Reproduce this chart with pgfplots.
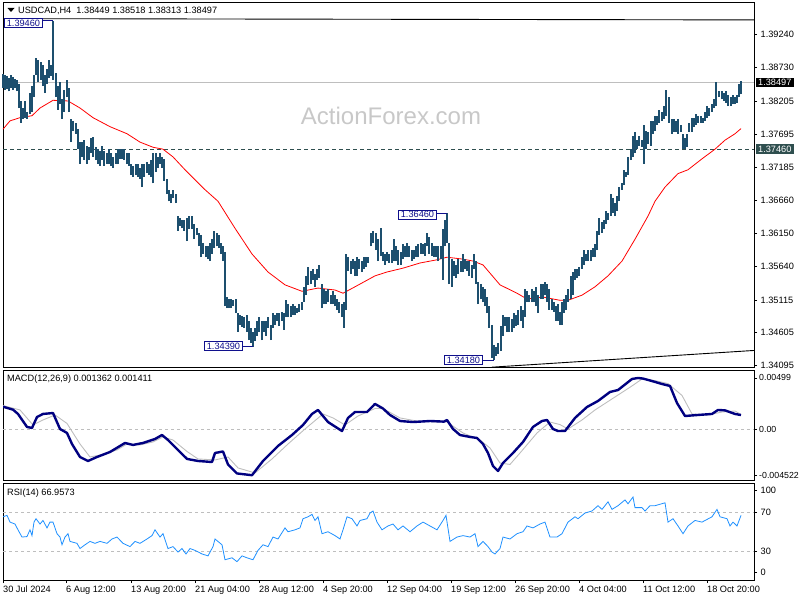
\documentclass[border=0pt]{standalone}
\usepackage{pgfplots}
\usepackage{pgfplotstable}
\pgfplotsset{compat=1.18}
\usepackage{fontspec}
\setmainfont{Liberation Sans}

\definecolor{barc}{HTML}{1D4F6E}
\definecolor{macdc}{HTML}{000080}
\definecolor{sigc}{HTML}{BEBEBE}
\definecolor{rsic}{HTML}{1E90FF}
\definecolor{tagc}{HTML}{2F4F4F}
\definecolor{boxc}{HTML}{10108C}
\definecolor{wmc}{HTML}{C8C8C8}

% H4 bars: x position, high, low
\pgfplotstableread{
x h l
3 1.3863 1.3841
5 1.3861 1.3838
7 1.3860 1.3840
9 1.3857 1.3836
11 1.3861 1.3841
13 1.3858 1.3838
15 1.3855 1.3841
17 1.3854 1.3836
19 1.3847 1.3810
21 1.3821 1.3787
23 1.3810 1.3793
25 1.3821 1.3795
27 1.3804 1.3793
30 1.3833 1.3801
32 1.3844 1.3804
34 1.3861 1.3827
36 1.3888 1.3861
38 1.3885 1.3850
41 1.3882 1.3854
43 1.3877 1.3844
45 1.3861 1.3833
47 1.3871 1.3847
49 1.3885 1.3857
51 1.3877 1.3860
53 1.3946 1.3854
56 1.3864 1.3827
58 1.3844 1.3807
60 1.3850 1.3816
62 1.3824 1.3793
64 1.3838 1.3804
67 1.3854 1.3827
69 1.3841 1.3804
71 1.3793 1.3757
73 1.3790 1.3774
76 1.3787 1.3770
78 1.3777 1.3746
80 1.3757 1.3723
82 1.3757 1.3734
84 1.3760 1.3729
87 1.3751 1.3723
89 1.3749 1.3729
91 1.3763 1.3740
93 1.3765 1.3734
96 1.3749 1.3729
98 1.3746 1.3723
100 1.3743 1.3720
102 1.3751 1.3729
104 1.3743 1.3720
107 1.3740 1.3723
109 1.3746 1.3723
111 1.3740 1.3720
113 1.3734 1.3717
116 1.3740 1.3723
118 1.3746 1.3723
120 1.3746 1.3731
122 1.3746 1.3731
124 1.3746 1.3729
127 1.3740 1.3723
129 1.3740 1.3720
131 1.3723 1.3706
133 1.3720 1.3703
136 1.3723 1.3706
138 1.3723 1.3703
140 1.3717 1.3700
142 1.3723 1.3687
144 1.3723 1.3703
147 1.3726 1.3709
149 1.3723 1.3706
151 1.3729 1.3703
153 1.3740 1.3693
156 1.3740 1.3711
158 1.3734 1.3717
160 1.3740 1.3723
162 1.3734 1.3717
164 1.3731 1.3697
167 1.3700 1.3676
169 1.3683 1.3665
171 1.3676 1.3662
173 1.3683 1.3670
176 1.3676 1.3662
178 1.3642 1.3619
180 1.3639 1.3627
182 1.3636 1.3623
184 1.3636 1.3619
187 1.3639 1.3603
189 1.3642 1.3622
192 1.3642 1.3622
194 1.3630 1.3606
197 1.3623 1.3613
199 1.3616 1.3595
201 1.3613 1.3578
203 1.3600 1.3583
206 1.3595 1.3578
208 1.3595 1.3575
210 1.3600 1.3572
212 1.3606 1.3583
214 1.3619 1.3592
217 1.3616 1.3595
219 1.3613 1.3592
221 1.3600 1.3583
223 1.3595 1.3572
225 1.3586 1.3502
227 1.3516 1.3499
229 1.3513 1.3499
231 1.3513 1.3499
233 1.3511 1.3502
236 1.3513 1.3491
238 1.3491 1.3462
240 1.3488 1.3473
242 1.3487 1.3470
244 1.3485 1.3468
247 1.3488 1.3462
249 1.3479 1.3449
251 1.3468 1.3445
253 1.3462 1.3439
255 1.3468 1.3448
257 1.3479 1.3456
259 1.3485 1.3462
262 1.3479 1.3449
264 1.3479 1.3462
266 1.3479 1.3456
268 1.3485 1.3468
271 1.3473 1.3449
273 1.3491 1.3468
275 1.3488 1.3473
277 1.3491 1.3479
279 1.3491 1.3471
282 1.3493 1.3479
284 1.3491 1.3465
286 1.3511 1.3485
288 1.3505 1.3485
291 1.3502 1.3485
293 1.3505 1.3488
295 1.3502 1.3488
297 1.3499 1.3491
299 1.3505 1.3493
302 1.3508 1.3496
304 1.3532 1.3508
306 1.3549 1.3519
308 1.3563 1.3535
311 1.3557 1.3536
313 1.3560 1.3543
315 1.3552 1.3532
317 1.3560 1.3543
319 1.3566 1.3546
322 1.3536 1.3499
324 1.3529 1.3505
326 1.3526 1.3505
328 1.3529 1.3508
331 1.3519 1.3505
333 1.3526 1.3505
335 1.3519 1.3502
337 1.3513 1.3496
339 1.3508 1.3491
342 1.3505 1.3485
344 1.3508 1.3468
346 1.3583 1.3496
348 1.3578 1.3557
351 1.3572 1.3552
353 1.3575 1.3560
355 1.3572 1.3549
357 1.3578 1.3549
359 1.3575 1.3560
362 1.3572 1.3555
364 1.3578 1.3560
366 1.3578 1.3563
368 1.3578 1.3569
371 1.3616 1.3595
373 1.3619 1.3600
376 1.3616 1.3589
378 1.3606 1.3572
381 1.3623 1.3580
383 1.3586 1.3572
385 1.3583 1.3566
387 1.3586 1.3572
389 1.3583 1.3569
392 1.3589 1.3569
394 1.3606 1.3572
396 1.3595 1.3572
398 1.3589 1.3566
401 1.3586 1.3566
403 1.3598 1.3575
405 1.3595 1.3578
407 1.3600 1.3578
409 1.3595 1.3578
412 1.3589 1.3572
414 1.3589 1.3575
416 1.3595 1.3578
418 1.3598 1.3578
421 1.3600 1.3583
423 1.3598 1.3583
425 1.3600 1.3580
427 1.3616 1.3595
429 1.3609 1.3583
432 1.3600 1.3580
434 1.3595 1.3578
436 1.3595 1.3578
438 1.3595 1.3572
441 1.3595 1.3575
443 1.3622 1.3543
445 1.3636 1.3595
447 1.3646 1.3600
449 1.3600 1.3536
452 1.3575 1.3532
454 1.3572 1.3549
456 1.3566 1.3546
458 1.3575 1.3552
461 1.3572 1.3555
463 1.3583 1.3555
465 1.3575 1.3560
467 1.3572 1.3557
469 1.3572 1.3549
472 1.3566 1.3546
474 1.3583 1.3560
476 1.3572 1.3536
478 1.3540 1.3505
481 1.3536 1.3513
483 1.3532 1.3508
485 1.3529 1.3502
487 1.3516 1.3491
489 1.3502 1.3468
492 1.3473 1.3421
494 1.3442 1.3418
496 1.3438 1.3424
498 1.3445 1.3428
501 1.3471 1.3432
503 1.3488 1.3456
505 1.3485 1.3471
507 1.3485 1.3462
509 1.3485 1.3462
512 1.3482 1.3462
514 1.3491 1.3468
516 1.3488 1.3471
518 1.3496 1.3473
521 1.3502 1.3479
523 1.3496 1.3468
525 1.3529 1.3485
527 1.3526 1.3508
529 1.3519 1.3508
532 1.3529 1.3508
534 1.3526 1.3508
536 1.3532 1.3502
538 1.3519 1.3491
541 1.3536 1.3513
543 1.3536 1.3513
545 1.3540 1.3519
547 1.3536 1.3508
549 1.3529 1.3496
552 1.3513 1.3496
554 1.3508 1.3493
556 1.3502 1.3479
558 1.3505 1.3479
560 1.3493 1.3473
562 1.3508 1.3473
564 1.3513 1.3491
566 1.3519 1.3496
568 1.3529 1.3508
571 1.3549 1.3513
573 1.3555 1.3519
575 1.3560 1.3543
577 1.3560 1.3546
579 1.3563 1.3549
582 1.3578 1.3560
584 1.3589 1.3566
586 1.3583 1.3572
588 1.3589 1.3572
591 1.3589 1.3572
593 1.3592 1.3578
595 1.3598 1.3578
597 1.3619 1.3589
599 1.3639 1.3613
602 1.3633 1.3616
604 1.3636 1.3622
606 1.3650 1.3630
608 1.3647 1.3636
611 1.3676 1.3642
613 1.3670 1.3647
615 1.3662 1.3642
617 1.3673 1.3650
619 1.3687 1.3665
622 1.3693 1.3683
624 1.3714 1.3690
626 1.3711 1.3703
628 1.3734 1.3706
631 1.3746 1.3729
633 1.3767 1.3734
635 1.3773 1.3740
637 1.3760 1.3746
639 1.3767 1.3751
642 1.3760 1.3749
644 1.3784 1.3723
646 1.3774 1.3746
648 1.3773 1.3754
651 1.3790 1.3751
653 1.3790 1.3770
655 1.3798 1.3774
657 1.3798 1.3784
659 1.3807 1.3787
662 1.3804 1.3790
664 1.3813 1.3793
666 1.3838 1.3798
669 1.3827 1.3787
672 1.3793 1.3770
674 1.3793 1.3773
676 1.3790 1.3773
678 1.3793 1.3770
681 1.3784 1.3773
683 1.3770 1.3746
685 1.3763 1.3746
687 1.3770 1.3749
689 1.3787 1.3773
692 1.3795 1.3773
694 1.3795 1.3781
696 1.3801 1.3784
698 1.3798 1.3787
701 1.3798 1.3787
703 1.3795 1.3787
705 1.3804 1.3790
707 1.3813 1.3795
709 1.3810 1.3798
712 1.3816 1.3804
714 1.3824 1.3810
716 1.3850 1.3813
719 1.3836 1.3827
722 1.3836 1.3824
724 1.3833 1.3821
726 1.3836 1.3818
728 1.3830 1.3813
731 1.3827 1.3813
733 1.3830 1.3816
735 1.3827 1.3816
737 1.3830 1.3818
739 1.3847 1.3827
741 1.38518 1.38313
}\bars

% moving average
\pgfplotstableread{
x y
3 1.3777
10 1.3790
20 1.3795
32 1.3798
40 1.3810
53 1.3822
68 1.3821
80 1.3810
93 1.3795
110 1.3781
127 1.3770
140 1.3757
153 1.3749
163 1.3746
173 1.3734
185 1.3714
205 1.3683
218 1.3665
235 1.3623
252 1.3583
268 1.3555
285 1.3535
302 1.3525
318 1.3530
335 1.3527
343 1.3522
355 1.3532
375 1.3549
387 1.3555
403 1.3561
420 1.3569
437 1.3574
447 1.3578
463 1.3575
473 1.3572
483 1.3566
500 1.3535
517 1.3522
527 1.3513
543 1.3516
560 1.3511
568 1.3511
582 1.3519
595 1.3532
608 1.3549
622 1.3572
635 1.3606
648 1.3642
655 1.3665
665 1.3687
678 1.3708
688 1.3714
702 1.3731
715 1.3746
725 1.3760
735 1.3770
741 1.3778
}\ma

% MACD main line
\pgfplotstableread{
x y
3 0.00218
13 0.00189
18 0.00147
27 0.00020
32 0.00010
37 0.00117
43 0.00147
53 0.00156
60 0.0
67 -0.00039
72 -0.00147
80 -0.00274
88 -0.00313
97 -0.00274
110 -0.00225
120 -0.00166
125 -0.00137
133 -0.00156
143 -0.00137
155 -0.00098
162 -0.00059
168 -0.00108
177 -0.00196
187 -0.00293
198 -0.00313
212 -0.00323
215 -0.00235
223 -0.00220
228 -0.00347
237 -0.00435
252 -0.004522
263 -0.00313
278 -0.00166
292 -0.00059
303 0.00039
312 0.00147
318 0.00186
328 0.00068
342 -0.00020
348 0.00108
355 0.00166
367 0.00166
375 0.00245
383 0.00200
390 0.00137
400 0.00078
413 0.00068
430 0.00078
444 0.00072
447 0.00088
453 0.0
460 -0.00059
470 -0.00078
477 -0.00088
483 -0.00147
488 -0.00235
493 -0.00362
498 -0.00411
503 -0.00333
513 -0.00235
523 -0.00127
533 0.00020
542 0.00078
547 0.00088
553 0.0
558 -0.00020
565 -0.00020
575 0.00108
587 0.00215
598 0.00274
610 0.00362
618 0.00381
632 0.00489
638 0.00499
643 0.00493
652 0.00469
662 0.00440
670 0.00421
677 0.00254
685 0.00127
698 0.00137
712 0.00147
718 0.00186
725 0.00182
735 0.00147
741 0.001362
}\macd

% MACD signal line
\pgfplotstableread{
x y
3 0.00229
20 0.00186
33 0.00039
43 0.00088
55 0.00137
67 0.00054
80 -0.00147
90 -0.00274
103 -0.00249
117 -0.00205
127 -0.00147
140 -0.00156
153 -0.00127
163 -0.00078
173 -0.00108
187 -0.00220
198 -0.00293
215 -0.00303
228 -0.00274
238 -0.00381
255 -0.00430
272 -0.00293
288 -0.00147
305 0.0
323 0.00147
333 0.00108
345 0.00039
358 0.00127
375 0.00200
383 0.00200
400 0.00108
420 0.00072
447 0.00068
463 -0.00039
480 -0.00108
490 -0.00186
500 -0.00333
510 -0.00347
520 -0.00235
537 -0.00039
550 0.00068
560 0.00043
568 0.0
582 0.00088
595 0.00186
615 0.00313
632 0.00421
642 0.00489
655 0.00473
668 0.00444
682 0.00328
692 0.00147
708 0.00137
722 0.00166
735 0.00176
741 0.001411
}\signal

% RSI(14)
\pgfplotstableread{
x y
3 65.5
7 67
10 60
15 58
18 52
22 44.5
27 45
30 52
32 46
34 60
36 63.5
40 58
43 61.7
47 54
50 60
53 60
57 48
60 44.5
62 36.5
65 44.5
68 48
70 40
77 38
80 32.6
85 36.5
90 40
95 38
100 40
107 38
112 42.5
117 44.5
123 38
130 34.6
135 40
140 38
147 42.5
152 46
155 52
160 44.5
163 48
168 32.6
173 34.6
178 29
182 32.6
186 27
190 32.6
195 30.7
202 27
208 25
213 34.6
215 42.5
222 36.5
225 21
232 23
237 19
242 25
247 23
253 21
258 30.7
263 36.5
268 34.6
273 44.5
278 42.5
285 54
288 50
295 52
300 54
303 63.5
308 65.5
312 68
315 61.7
318 65.5
322 48
328 50
335 46
340 42.5
343 52
347 65.5
352 63.5
357 56
360 61.7
367 63.5
370 69.4
373 71.5
377 60
382 52
388 56
393 58
398 52
403 56
410 50
417 56
423 60
430 56
437 52
443 61.7
446 67
450 40
457 44.5
463 46
470 44.5
475 48
478 34.6
483 40
488 34.6
492 29
495 27
500 32.6
503 44.5
510 42.5
517 48
523 50
527 56
533 54
540 58
545 60
550 44.5
557 44.5
562 48
568 60
575 65.5
578 63.5
585 69.4
592 71.5
598 77
602 73.2
608 81
612 73.2
618 77
625 83
628 79
633 86
635 75
642 75
645 71.5
650 77
655 77
665 80
668 60
673 63.5
678 56
683 48
688 56
695 61.7
702 60
712 65.5
717 73.2
720 65.5
727 63.5
730 56
733 60
737 56
741 66.9573
}\rsi

\pgfplotsset{
  panel/.style={
    scale only axis, width=751pt, xmin=3, xmax=754,
    anchor=north west,
    axis line style={black, line width=0.9pt},
    xtick=\empty,
    ytick pos=right, yticklabel pos=right,
    tick align=outside, major tick length=3pt,
    tick style={black, line width=0.7pt},
    yticklabel style={anchor=west, inner sep=0pt, xshift=3.5pt, font=\fontsize{9.2}{10}\selectfont},
    scaled y ticks=false,
  },
}
\tikzset{
  pricebox/.style={draw=boxc, fill=white, text=boxc, line width=0.8pt,
    inner xsep=2.5pt, inner ysep=1pt, anchor=east, font=\fontsize{9.2}{10}\selectfont},
}

\begin{document}
\begin{tikzpicture}[x=1pt, y=1pt, font=\fontsize{9.2}{10}\selectfont]
\path[use as bounding box] (0,0) rectangle (800,600);

% watermark
\node[text=wmc, font=\fontsize{24}{28}\selectfont] at (391,484) {ActionForex.com};

% price panel
\begin{axis}[panel, at={(3pt,597.5pt)}, height=365pt,
  ymin=1.34065, ymax=1.39741, clip=false,
  ytick={1.34095,1.34605,1.35115,1.35640,1.36150,1.36660,1.37185,1.37695,1.38205,1.38730,1.39240},
  yticklabels={1.34095,1.34605,1.35115,1.35640,1.36150,1.36660,1.37185,1.37695,1.38205,1.38730,1.39240}]
\addplot[sigc, line width=0.8pt] coordinates {(3,1.38497) (754,1.38497)};
\addplot[tagc, line width=0.8pt, dash pattern=on 4pt off 3pt] coordinates {(3,1.3746) (754,1.3746)};
\addplot[black, line width=0.9pt] coordinates {(3,1.3949) (754,1.3947)};
\addplot[black, line width=0.9pt] coordinates {(492,1.3407) (754,1.3433)};
\addplot[red, line width=0.8pt] table[x=x, y=y] {\ma};
\addplot[draw=none, mark=none,
  error bars/.cd, y dir=plus, y explicit, error mark=none,
  error bar style={draw=barc, line width=1.1pt, solid}]
  table[x=x, y=l, y error plus expr=\thisrow{h}-\thisrow{l}] {\bars};
% high and low labels
\draw[boxc, line width=0.8pt] (axis cs:43,1.3946) -- (axis cs:53,1.3946);
\node[pricebox] at (axis cs:43,1.3942) {1.39460};
\draw[boxc, line width=0.8pt] (axis cs:243,1.3439) -- (axis cs:253,1.3439);
\node[pricebox] at (axis cs:243,1.3440) {1.34390};
\draw[boxc, line width=0.8pt] (axis cs:437,1.3646) -- (axis cs:447,1.3646);
\node[pricebox] at (axis cs:437,1.3644) {1.36460};
\draw[boxc, line width=0.8pt] (axis cs:483,1.3418) -- (axis cs:494,1.3418);
\node[pricebox] at (axis cs:483,1.3418) {1.34180};
% price tags
\node[fill=black, text=white, anchor=west, inner xsep=2.5pt, inner ysep=1.5pt] at (axis cs:755.5,1.38497) {1.38497};
\node[fill=tagc, text=white, anchor=west, inner xsep=2.5pt, inner ysep=1.5pt] at (axis cs:755.5,1.3746) {1.37460};
\end{axis}

% MACD panel
\begin{axis}[panel, at={(3pt,229.5pt)}, height=110pt,
  ymin=-0.00504, ymax=0.00572,
  ytick={-0.004522,0,0.00499},
  yticklabels={-0.004522,0.00,0.00499},
  yticklabel style={xshift=-1.5pt, font=\fontsize{8.8}{10}\selectfont}]
\addplot[sigc, line width=0.8pt, dash pattern=on 3pt off 3pt] coordinates {(3,0) (754,0)};
\addplot[sigc, line width=0.9pt] table[x=x, y=y] {\signal};
\addplot[macdc, line width=2.4pt, line join=round] table[x=x, y=y] {\macd};
\end{axis}

% RSI panel
\begin{axis}[panel, at={(3pt,116.5pt)}, height=96.5pt,
  ymin=0, ymax=100,
  ytick={30,70}, yticklabels={30,70},
  extra y ticks={8,92.7}, extra y tick labels={0,100},
  xtick={3,66,131,195,259,323,387,451,515,579,643,707},
  xticklabels={30 Jul 2024,6 Aug 12:00,13 Aug 20:00,21 Aug 04:00,28 Aug 12:00,4 Sep 20:00,12 Sep 04:00,19 Sep 12:00,26 Sep 20:00,4 Oct 04:00,11 Oct 12:00,18 Oct 20:00},
  xtick pos=bottom,
  xticklabel style={anchor=north west, inner sep=0pt, yshift=-3pt, font=\fontsize{9.2}{10}\selectfont}]
\addplot[sigc, line width=0.8pt, dash pattern=on 3pt off 3pt] coordinates {(3,30) (754,30)};
\addplot[sigc, line width=0.8pt, dash pattern=on 3pt off 3pt] coordinates {(3,70) (754,70)};
\addplot[rsic, line width=0.8pt] table[x=x, y=y] {\rsi};
\end{axis}

% title and indicator labels
\fill[black] (7.5,592) -- (14.5,592) -- (11,588) -- cycle;
\node[anchor=base west, inner sep=0pt] at (18,586) {USDCAD,H4\ \ 1.38449 1.38518 1.38313 1.38497};
\node[anchor=base west, inner sep=0pt] at (7,218) {MACD(12,26,9) 0.001362 0.001411};
\node[anchor=base west, inner sep=0pt] at (7,104.5) {RSI(14) 66.9573};
\end{tikzpicture}
\end{document}
